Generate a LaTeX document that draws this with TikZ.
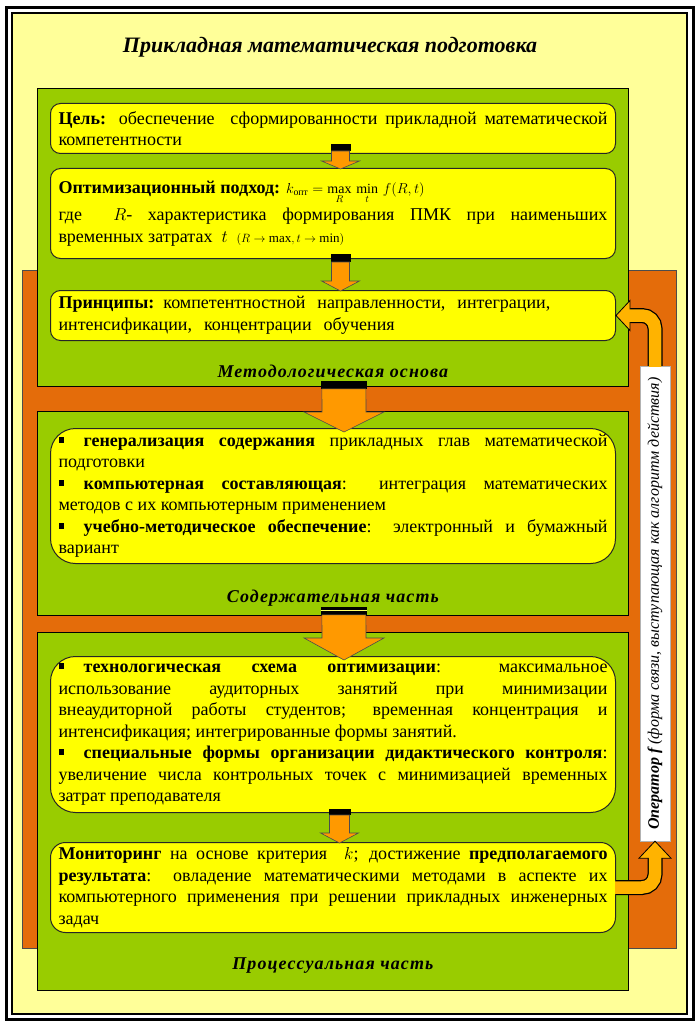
\documentclass[tikz,border=0pt]{standalone}
\usepackage{fontspec}
\setmainfont{Liberation Serif}
\usepackage{amsmath}
\usepackage{graphicx}
\usetikzlibrary{positioning,calc}

\definecolor{pagecream}{HTML}{FFFF99}
\definecolor{stagegreen}{HTML}{99CC00}
\definecolor{boxyellow}{HTML}{FFFF00}
\definecolor{frameorange}{HTML}{E46C0A}
\definecolor{arroworange}{HTML}{FF9900}
\definecolor{loopgold}{HTML}{FFB300}

\newcommand{\bodyfont}{\fontsize{18}{21.5}\selectfont}
\newcommand{\sqitem}{\rule[0.22em]{0.3em}{0.3em}\hspace{1.1em}}

% стрелка-блок: #1 начало, #2 острие, #3 полуширина ствола, #4 полуширина головки, #5 длина головки, #6 высота шапки
\newcommand{\flowarrow}[6]{%
  \fill[black] ($(#1)+(-#3-1,0)$) rectangle ($(#1)+(#3+1,-#6)$);
  \filldraw[arrowbody] ($(#1)+(-#3,-#6)$) -- ($(#2)+(-#3,#5)$) -- ($(#2)+(-#4,#5)$) -- (#2)
    -- ($(#2)+(#4,#5)$) -- ($(#2)+(#3,#5)$) -- ($(#1)+(#3,-#6)$) -- cycle;
}

\tikzset{
    stagebox/.style={
        rectangle,                 % зелёная панель этапа
        draw=black,
        fill=stagegreen,
        line width=0.8pt,
        anchor=north west,
        inner sep=0pt
    },
    textbox/.style={
        rectangle,
        rounded corners=#1,        % радиус меняется от блока к блоку
        draw=black!85,
        fill=boxyellow,
        line width=1pt,
        text width=549pt,
        align=justify,
        inner xsep=8pt,
        inner ysep=3pt,
        anchor=north west,
        font=\bodyfont
    },
    textbox/.default=10pt,
    stagelabel/.style={
        font=\fontsize{18}{20}\selectfont\bfseries\itshape\addfontfeature{LetterSpace=6}
    },
    arrowbody/.style={
        fill=arroworange,
        draw=black!70,
        line width=0.6pt
    },
    operatorbox/.style={
        rectangle,
        fill=white,
        draw=black!30,
        minimum width=30pt,
        minimum height=475pt,
        inner sep=0pt,
        font=\fontsize{16}{18}\selectfont\itshape
    },
    loopedge/.style={line width=15pt, draw=black, rounded corners=13pt},
    loopfill/.style={line width=12.5pt, draw=loopgold, rounded corners=13pt},
    looptip/.style={fill=loopgold, draw=black, line width=0.8pt, line join=miter}
}

\begin{document}
\begin{tikzpicture}[x=1pt,y=1pt]
    \useasboundingbox (0,0) rectangle (700,-1027);
    % рамка
    \draw[line width=2.5pt] (6.5,-7.5) rectangle (693.5,-1019.5);
    \draw[line width=2pt, fill=pagecream] (12,-13) rectangle (687,-1014);

    \node[font=\fontsize{22}{24}\selectfont\bfseries\itshape] (title) at (330,-47) {Прикладная математическая подготовка};

    \fill[frameorange, draw=black!70, line width=0.6pt] (22,-270) rectangle (676,-948);

    % этапы
    \node[stagebox, minimum width=591pt, minimum height=298pt] (method) at (37,-88) {};
    \node[stagebox, minimum width=591pt, minimum height=204pt] (content) at (37,-411) {};
    \node[stagebox, minimum width=591pt, minimum height=358pt] (process) at (37,-632) {};

    \node[stagelabel, above=6pt of method.south] (methodlabel) {Методологическая основа};
    \node[stagelabel, above=6pt of content.south] (contentlabel) {Содержательная часть};
    \node[stagelabel, above=14pt of process.south] (processlabel) {Процессуальная часть};

    % блоки
    \node[textbox, minimum height=50pt] (goal) at (50,-103) {\textbf{Цель:} обеспечение\ \ сформированности прикладной математической\linebreak компетентности};
    \node[textbox, minimum height=90pt] (optim) at (50,-168) {\textbf{Оптимизационный подход:} {\fontsize{14}{16}\selectfont$k_{\text{опт}}=\max\limits_{R}\,\min\limits_{t}\, f(R,t)$}\\[3pt]
        где\ \ $R$- характеристика формирования ПМК при наименьших\linebreak
        временных затратах\ \ $t$\ \ {\fontsize{13}{16}\selectfont$(R\rightarrow\max, t\rightarrow\min)$}};
    \node[textbox, minimum height=50pt, align=left] (principles) at (50,-290) {\textbf{Принципы:} компетентностной\ \ направленности,\ \ интеграции,\\ интенсификации,\ \ концентрации\ \ обучения};
    \node[textbox=25pt, minimum height=135pt] (means) at (50,-428) {\sqitem\textbf{генерализация содержания} прикладных глав математической\linebreak подготовки\\
        \sqitem\textbf{компьютерная составляющая}: интеграция математических\linebreak методов с их компьютерным применением\\
        \sqitem\textbf{учебно-методическое обеспечение}: электронный и бумажный\linebreak вариант};
    \node[textbox=25pt, minimum height=156pt] (tech) at (50,-656) {\sqitem\textbf{технологическая схема оптимизации}: максимальное\linebreak использование аудиторных занятий при минимизации\linebreak внеаудиторной работы студентов; временная концентрация и\linebreak интенсификация; интегрированные формы занятий.\\
        \sqitem\textbf{специальные формы организации дидактического контроля}:\linebreak увеличение числа контрольных точек с минимизацией временных\linebreak затрат преподавателя};
    \node[textbox=15pt, minimum height=90pt] (monitor) at (50,-842) {\textbf{Мониторинг} на основе критерия\ \ $k$; достижение \textbf{предполагаемого}\linebreak \textbf{результата}: овладение математическими методами в аспекте их\linebreak компьютерного применения при решении прикладных инженерных\linebreak задач};

    \node[operatorbox] (operator) at (655,-603.5) {\rotatebox{90}{\textbf{Оператор f} (форма связи, выступающая как алгоритм действия)}};

    % переходы
    \coordinate (a1s) at ([xshift=7.5pt,yshift=10pt]goal.south);
    \coordinate (a1e) at ([xshift=7.5pt,yshift=-1pt]optim.north);
    \flowarrow{a1s}{a1e}{9}{19}{8}{7}
    \coordinate (a2s) at ([xshift=7.5pt,yshift=5pt]optim.south);
    \coordinate (a2e) at ([xshift=7.5pt,yshift=-1pt]principles.north);
    \flowarrow{a2s}{a2e}{9}{19}{10}{8}
    \coordinate (a3s) at ([xshift=11pt,yshift=6pt]method.south);
    \coordinate (a3e) at ([xshift=11pt,yshift=-4pt]means.north);
    \flowarrow{a3s}{a3e}{22}{40}{20}{8}
    \coordinate (a4s) at ([xshift=11pt,yshift=9pt]content.south);
    \coordinate (a4e) at ([xshift=11pt,yshift=-4pt]tech.north);
    \flowarrow{a4s}{a4e}{22}{40}{22}{8}
    \draw[boxyellow!60, line width=1.2pt] ($(a4s)+(-23,-4)$) -- ($(a4s)+(23,-4)$);
    \coordinate (a5s) at ([xshift=6.5pt,yshift=4pt]tech.south);
    \coordinate (a5e) at ([xshift=6.5pt,yshift=-1pt]monitor.north);
    \flowarrow{a5s}{a5e}{10}{19}{10}{6}

    % обратная связь
    \coordinate (lowbase) at ([yshift=-17pt]operator.south);
    \draw[loopedge] (monitor.east) -| (lowbase);
    \filldraw[looptip] (operator.south) -- ($(lowbase)+(-16,0)$) -- ($(lowbase)+(16,0)$) -- cycle;
    \draw[loopfill] ([xshift=-1pt]monitor.east) -| ([yshift=1.5pt]lowbase);

    \coordinate (upbase) at ([xshift=14pt]principles.east);
    \draw[loopedge] (operator.north) |- (upbase);
    \filldraw[looptip] (principles.east) -- ($(upbase)+(0,15)$) -- ($(upbase)+(0,-15)$) -- cycle;
    \draw[loopfill] ([yshift=-1pt]operator.north) |- ([xshift=-1.5pt]upbase);
\end{tikzpicture}
\end{document}
